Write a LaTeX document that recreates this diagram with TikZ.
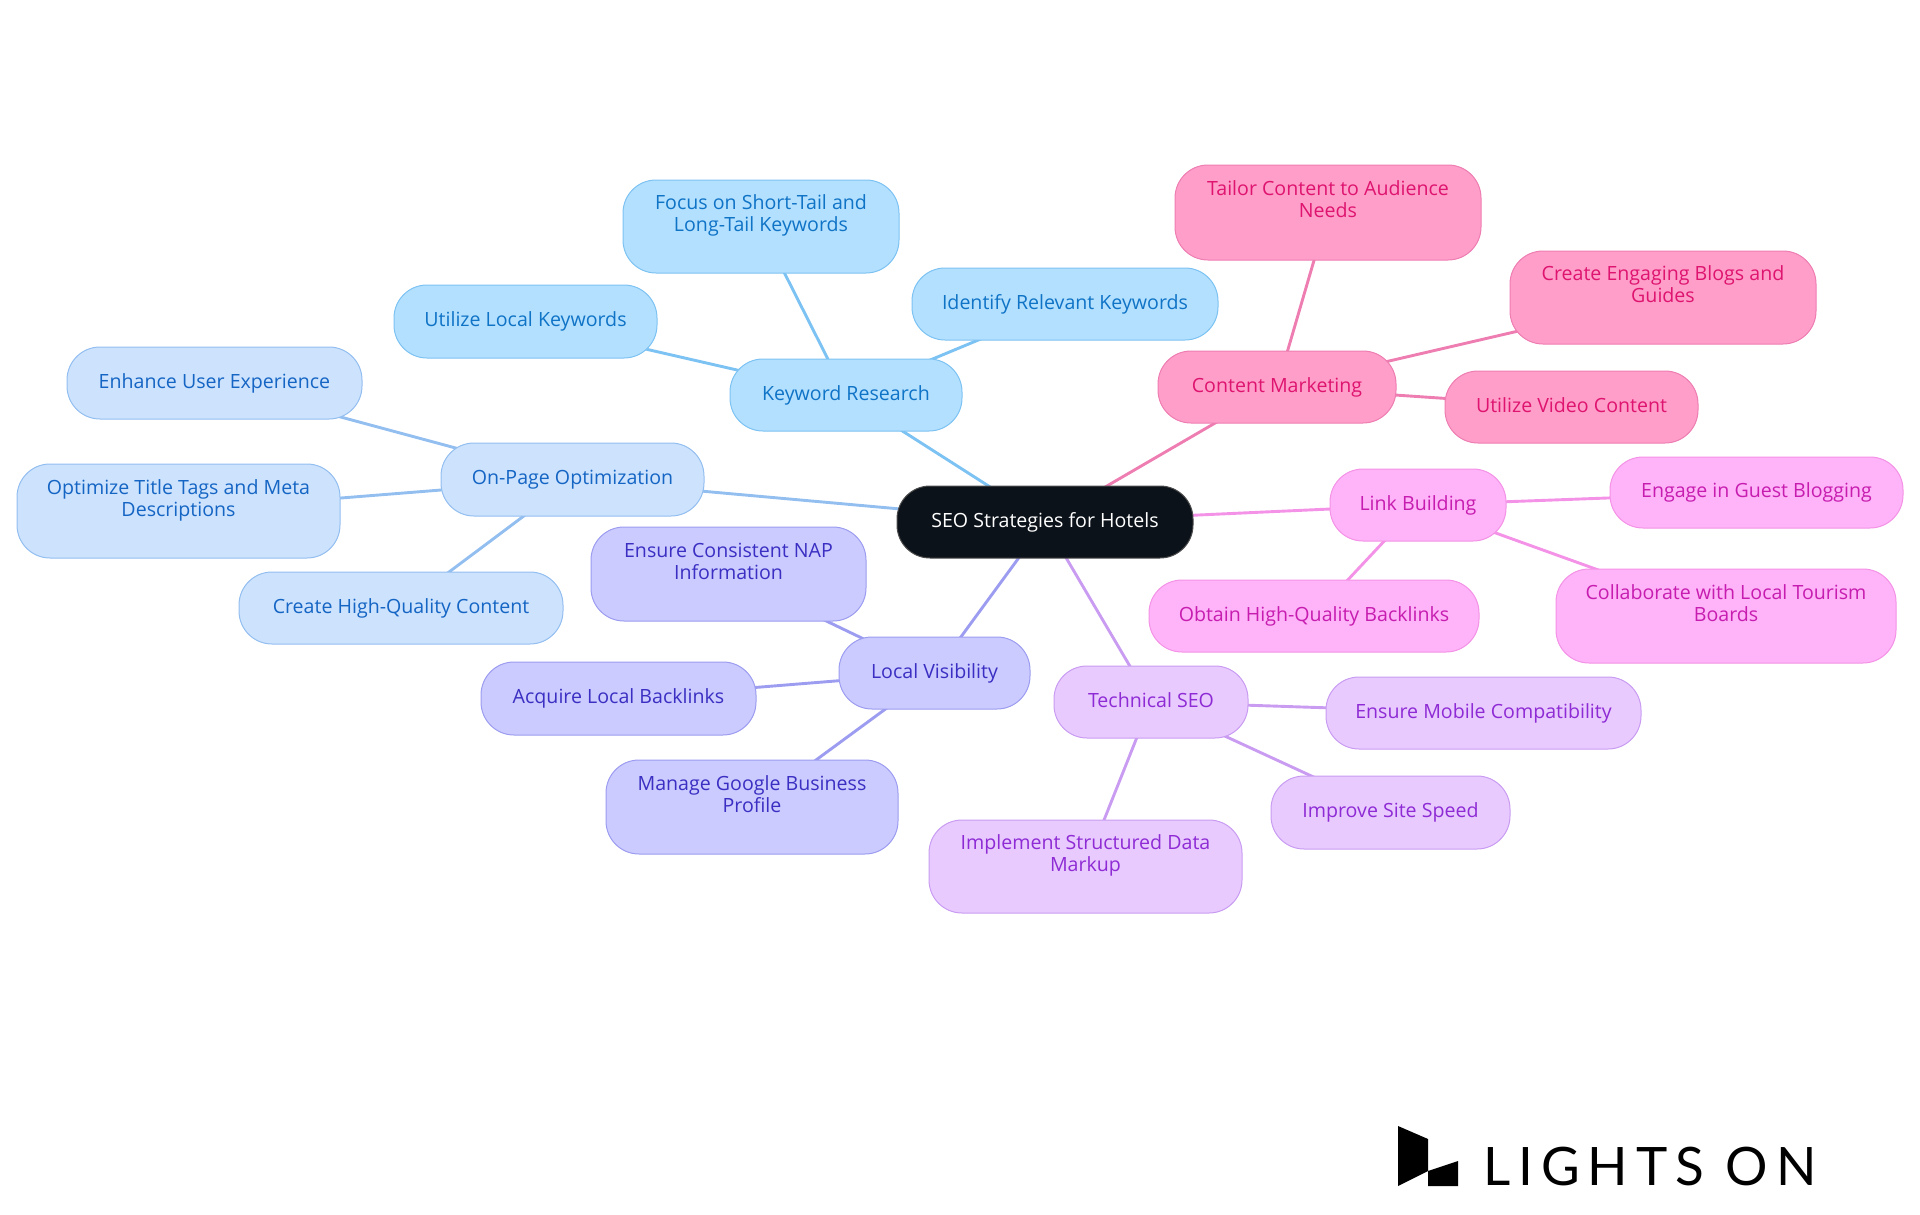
\documentclass[tikz,border=0pt]{standalone}
\usepackage{fontspec}
\setmainfont{Open Sans}
\newfontfamily\logofont[LetterSpace=15]{Lato}
\usetikzlibrary{backgrounds}
\definecolor{krF}{HTML}{B3E0FF}\definecolor{krD}{HTML}{7CC2F2}\definecolor{krT}{HTML}{0F73C6}
\definecolor{opF}{HTML}{CCE2FD}\definecolor{opD}{HTML}{93BEF0}\definecolor{opT}{HTML}{1565C4}
\definecolor{lvF}{HTML}{CBCBFF}\definecolor{lvD}{HTML}{9C9CF0}\definecolor{lvT}{HTML}{3A2FC2}
\definecolor{tsF}{HTML}{E8CAFF}\definecolor{tsD}{HTML}{C99CF2}\definecolor{tsT}{HTML}{8E2BD4}
\definecolor{lbF}{HTML}{FFB3F8}\definecolor{lbD}{HTML}{F392E6}\definecolor{lbT}{HTML}{C61DB0}
\definecolor{cmF}{HTML}{FF9EC8}\definecolor{cmD}{HTML}{EE7DB2}\definecolor{cmT}{HTML}{DE1470}
\definecolor{rootF}{HTML}{0C121A}
\tikzset{
  mm/.style={draw,rounded corners=33pt,line width=1pt,inner sep=0pt,align=center,text height=15pt,text depth=5pt,font=\fontsize{19.6}{22}\selectfont},
  boxkr/.style={mm,fill=krF,draw=krD,text=krT},
  boxop/.style={mm,fill=opF,draw=opD,text=opT},
  boxlv/.style={mm,fill=lvF,draw=lvD,text=lvT},
  boxts/.style={mm,fill=tsF,draw=tsD,text=tsT},
  boxlb/.style={mm,fill=lbF,draw=lbD,text=lbT},
  boxcm/.style={mm,fill=cmF,draw=cmD,text=cmT},
  rootnode/.style={mm,fill=rootF,draw=black!70,text=white},
  linkline/.style={line width=2.9pt}
}
\newcommand{\nd}[7]{%
  \pgfmathsetmacro{\cxx}{(#3+#5)/2}\pgfmathsetmacro{\cyy}{(#4+#6)/2}%
  \pgfmathsetmacro{\ww}{#5-#3}\pgfmathsetmacro{\hh}{#6-#4}%
  \node[#2,minimum width=\ww pt,minimum height=\hh pt] (#1) at (\cxx,\cyy) {#7};}
\begin{document}
\begin{tikzpicture}[x=1pt,y=-1pt]
\useasboundingbox (0,0) rectangle (1920,1215);
\nd{root}{rootnode}{897}{486}{1193}{558}{SEO Strategies for Hotels}
\nd{kr}{boxkr}{730}{359}{962}{431}{Keyword Research}
\nd{krA}{boxkr}{623}{180}{899}{273}{Focus on Short-Tail and\\Long-Tail Keywords}
\nd{krB}{boxkr}{394}{285}{657}{358}{Utilize Local Keywords}
\nd{krC}{boxkr}{912}{268}{1218}{340}{Identify Relevant Keywords}
\nd{op}{boxop}{441}{443}{704}{516}{On-Page Optimization}
\nd{opA}{boxop}{67}{347}{362}{419}{Enhance User Experience}
\nd{opB}{boxop}{17}{464}{340}{558}{Optimize Title Tags and Meta\\Descriptions}
\nd{opC}{boxop}{239}{572}{563}{644}{Create High-Quality Content}
\nd{lv}{boxlv}{839}{637}{1030}{709}{Local Visibility}
\nd{lvA}{boxlv}{591}{527}{866}{621}{Ensure Consistent NAP\\Information}
\nd{lvB}{boxlv}{481}{662}{756}{735}{Acquire Local Backlinks}
\nd{lvC}{boxlv}{606}{760}{898}{854}{Manage Google Business\\Profile}
\nd{ts}{boxts}{1054}{666}{1248}{738}{Technical SEO}
\nd{tsA}{boxts}{1326}{677}{1641}{749}{Ensure Mobile Compatibility}
\nd{tsB}{boxts}{1271}{776}{1510}{849}{Improve Site Speed}
\nd{tsC}{boxts}{929}{820}{1242}{913}{Implement Structured Data\\Markup}
\nd{lb}{boxlb}{1330}{469}{1506}{541}{Link Building}
\nd{lbA}{boxlb}{1610}{457}{1903}{528}{Engage in Guest Blogging}
\nd{lbB}{boxlb}{1149}{580}{1479}{652}{Obtain High-Quality Backlinks}
\nd{lbC}{boxlb}{1556}{569}{1896}{663}{Collaborate with Local Tourism\\Boards}
\nd{cm}{boxcm}{1158}{351}{1396}{423}{Content Marketing}
\nd{cmA}{boxcm}{1175}{165}{1481}{260}{Tailor Content to Audience\\Needs}
\nd{cmB}{boxcm}{1510}{251}{1816}{344}{Create Engaging Blogs and\\Guides}
\nd{cmC}{boxcm}{1445}{371}{1698}{443}{Utilize Video Content}
\begin{scope}[on background layer]
\foreach \a/\b in {root/kr,kr/krA,kr/krB,kr/krC}{\draw[linkline,krD] (\a.center) -- (\b.center);}
\foreach \a/\b in {root/op,op/opA,op/opB,op/opC}{\draw[linkline,opD] (\a.center) -- (\b.center);}
\foreach \a/\b in {root/lv,lv/lvA,lv/lvB,lv/lvC}{\draw[linkline,lvD] (\a.center) -- (\b.center);}
\foreach \a/\b in {root/ts,ts/tsA,ts/tsB,ts/tsC}{\draw[linkline,tsD] (\a.center) -- (\b.center);}
\foreach \a/\b in {root/lb,lb/lbA,lb/lbB,lb/lbC}{\draw[linkline,lbD] (\a.center) -- (\b.center);}
\foreach \a/\b in {root/cm,cm/cmA,cm/cmB,cm/cmC}{\draw[linkline,cmD] (\a.center) -- (\b.center);}
\end{scope}
\fill[black] (1398,1126) -- (1428,1139) -- (1428,1171) -- (1458,1161) -- (1458,1186) -- (1428,1186) -- (1428,1171) -- (1398,1186) -- cycle;
\node[anchor=west,inner sep=0pt,font=\logofont\fontsize{53}{53}\selectfont] (logo) at (1483,1167) {LIGHTS ON};
\end{tikzpicture}
\end{document}
